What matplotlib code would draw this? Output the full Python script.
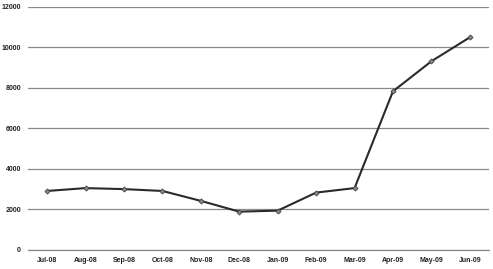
import matplotlib
matplotlib.use('Agg')
import matplotlib.pyplot as plt

months = ['Jul-08', 'Aug-08', 'Sep-08', 'Oct-08', 'Nov-08', 'Dec-08',
          'Jan-09', 'Feb-09', 'Mar-09', 'Apr-09', 'May-09', 'Jun-09']
values = [2910, 3050, 3000, 2910, 2420, 1890, 1940, 2830, 3050, 7820, 9300, 10480]
yticks = [0, 2000, 4000, 6000, 8000, 10000, 12000]

plt.rcParams['font.family'] = ['Liberation Sans', 'DejaVu Sans']

fig = plt.figure(figsize=(4.93, 2.69), dpi=100)
ax = fig.add_axes([28/493, 19/269, 461/493, 243.5/269])

x = range(len(months))
ax.plot(x, values, color='#2a2a2a', lw=1.5, marker='D', ms=2.6,
        mfc='#888888', mec='#444444', mew=0.6, zorder=3)

ax.set_xlim(-0.5, len(months) - 0.5)
ax.set_ylim(0, 12000)
ax.set_yticks(yticks)
ax.set_xticks(list(x))
ax.set_xticklabels(months)
ax.grid(axis='y', color='#8a8a8a', lw=0.9)
ax.set_axisbelow(True)
for s in ax.spines.values():
    s.set_visible(False)
ax.spines['bottom'].set_visible(True)
ax.spines['bottom'].set_color('#8a8a8a')
ax.spines['bottom'].set_linewidth(0.9)
ax.tick_params(length=0, labelsize=5, colors='#222222', pad=5)
ax.tick_params(axis='y', pad=5)
for lbl in ax.get_xticklabels() + ax.get_yticklabels():
    lbl.set_fontweight('bold')

fig.savefig('out.png', dpi=100)
